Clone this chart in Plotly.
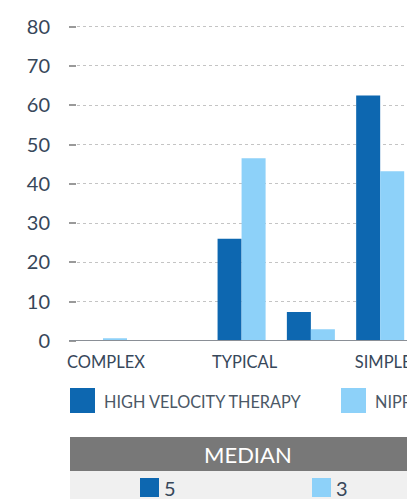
import plotly.graph_objects as go

# Chart data
categories = ["COMPLEX", " ", "TYPICAL", "  ", "SIMPLE"]
series_names = ["HIGH VELOCITY THERAPY", "NIPPV"]
high_velocity = [0, None, 26, 7.4, 62.5]
nippv = [0.7, None, 46.5, 3, 43.2]
medians = [5, 3]
y_ticks = [0, 10, 20, 30, 40, 50, 60, 70, 80]

DARK = "#0d67b0"
LIGHT = "#8dd1f9"
TEXT = "#37475a"
FONT = "Lato"

W, H = 407, 499
LEFT = 77
Y_TOP = 80.4  # a little headroom so the 80 gridline is drawn


def px_x(px):
    return (px - LEFT) / (W - LEFT)


def px_y(py):
    return (H - py) / H


fig = go.Figure()
fig.add_trace(go.Bar(x=categories, y=high_velocity, name=series_names[0],
                     marker=dict(color=DARK, line=dict(width=0))))
fig.add_trace(go.Bar(x=categories, y=nippv, name=series_names[1],
                     marker=dict(color=LIGHT, line=dict(width=0))))

shapes = []
annotations = []

# baseline
shapes.append(dict(type="line", xref="paper", yref="y", x0=px_x(69), x1=1.2,
                   y0=0, y1=0, line=dict(color="#8a8f96", width=2)))

# legend
legend_items = [(series_names[0], DARK, 70), (series_names[1], LIGHT, 341)]
for name, color, x0 in legend_items:
    shapes.append(dict(type="rect", xref="paper", yref="paper",
                       x0=px_x(x0), x1=px_x(x0 + 25), y0=px_y(413), y1=px_y(388),
                       fillcolor=color, line=dict(width=0)))
    annotations.append(dict(xref="paper", yref="paper", x=px_x(x0 + 32), y=px_y(401),
                            text=name, showarrow=False, xanchor="left", yanchor="middle",
                            font=dict(family=FONT, size=16.3, color="#4b5866")))

# median table
shapes.append(dict(type="rect", xref="paper", yref="paper",
                   x0=px_x(70), x1=1.2, y0=px_y(471), y1=px_y(437),
                   fillcolor="#787878", line=dict(width=0)))
shapes.append(dict(type="rect", xref="paper", yref="paper",
                   x0=px_x(70), x1=1.2, y0=px_y(520), y1=px_y(471),
                   fillcolor="#f0f0f0", line=dict(width=0)))
annotations.append(dict(xref="paper", yref="paper", x=px_x(248), y=px_y(454),
                        text="MEDIAN", showarrow=False, xanchor="center", yanchor="middle",
                        font=dict(family=FONT, size=22, color="#ffffff")))
for value, color, x0 in [(medians[0], DARK, 140), (medians[1], LIGHT, 312)]:
    shapes.append(dict(type="rect", xref="paper", yref="paper",
                       x0=px_x(x0), x1=px_x(x0 + 19), y0=px_y(497), y1=px_y(478),
                       fillcolor=color, line=dict(width=0)))
    annotations.append(dict(xref="paper", yref="paper", x=px_x(x0 + 22), y=px_y(488),
                            text=str(value), showarrow=False, xanchor="left", yanchor="middle",
                            font=dict(family=FONT, size=20, color=TEXT)))

unit = (341 - 26.7) / 80  # pixels per y unit

fig.update_layout(
    width=W, height=H,
    margin=dict(l=LEFT, r=0, t=0, b=0, autoexpand=False),
    paper_bgcolor="white", plot_bgcolor="white",
    barmode="group", bargap=0.307, bargroupgap=0,
    showlegend=False,
    shapes=shapes, annotations=annotations,
    font=dict(family=FONT, color=TEXT),
    xaxis=dict(type="category", categoryorder="array", categoryarray=categories,
               range=[-0.375, 4.387], showgrid=False, showline=False, zeroline=False,
               automargin=False, ticks="", ticklabelstandoff=9, ticklabelshift=3,
               tickfont=dict(family=FONT, size=16.5, color=TEXT)),
    yaxis=dict(range=[0, Y_TOP], tickvals=y_ticks,
               domain=[px_y(341), px_y(26.7 - (Y_TOP - 80) * unit)],
               automargin=False,
               showgrid=True, gridcolor="#c4c4c4", griddash="dot", gridwidth=1,
               zeroline=False, showline=False,
               ticks="outside", ticklen=7, tickwidth=2, tickcolor="#9a9a9a",
               ticklabelstandoff=15,
               tickfont=dict(family=FONT, size=20, color=TEXT)),
)

fig.write_html("out.html")
